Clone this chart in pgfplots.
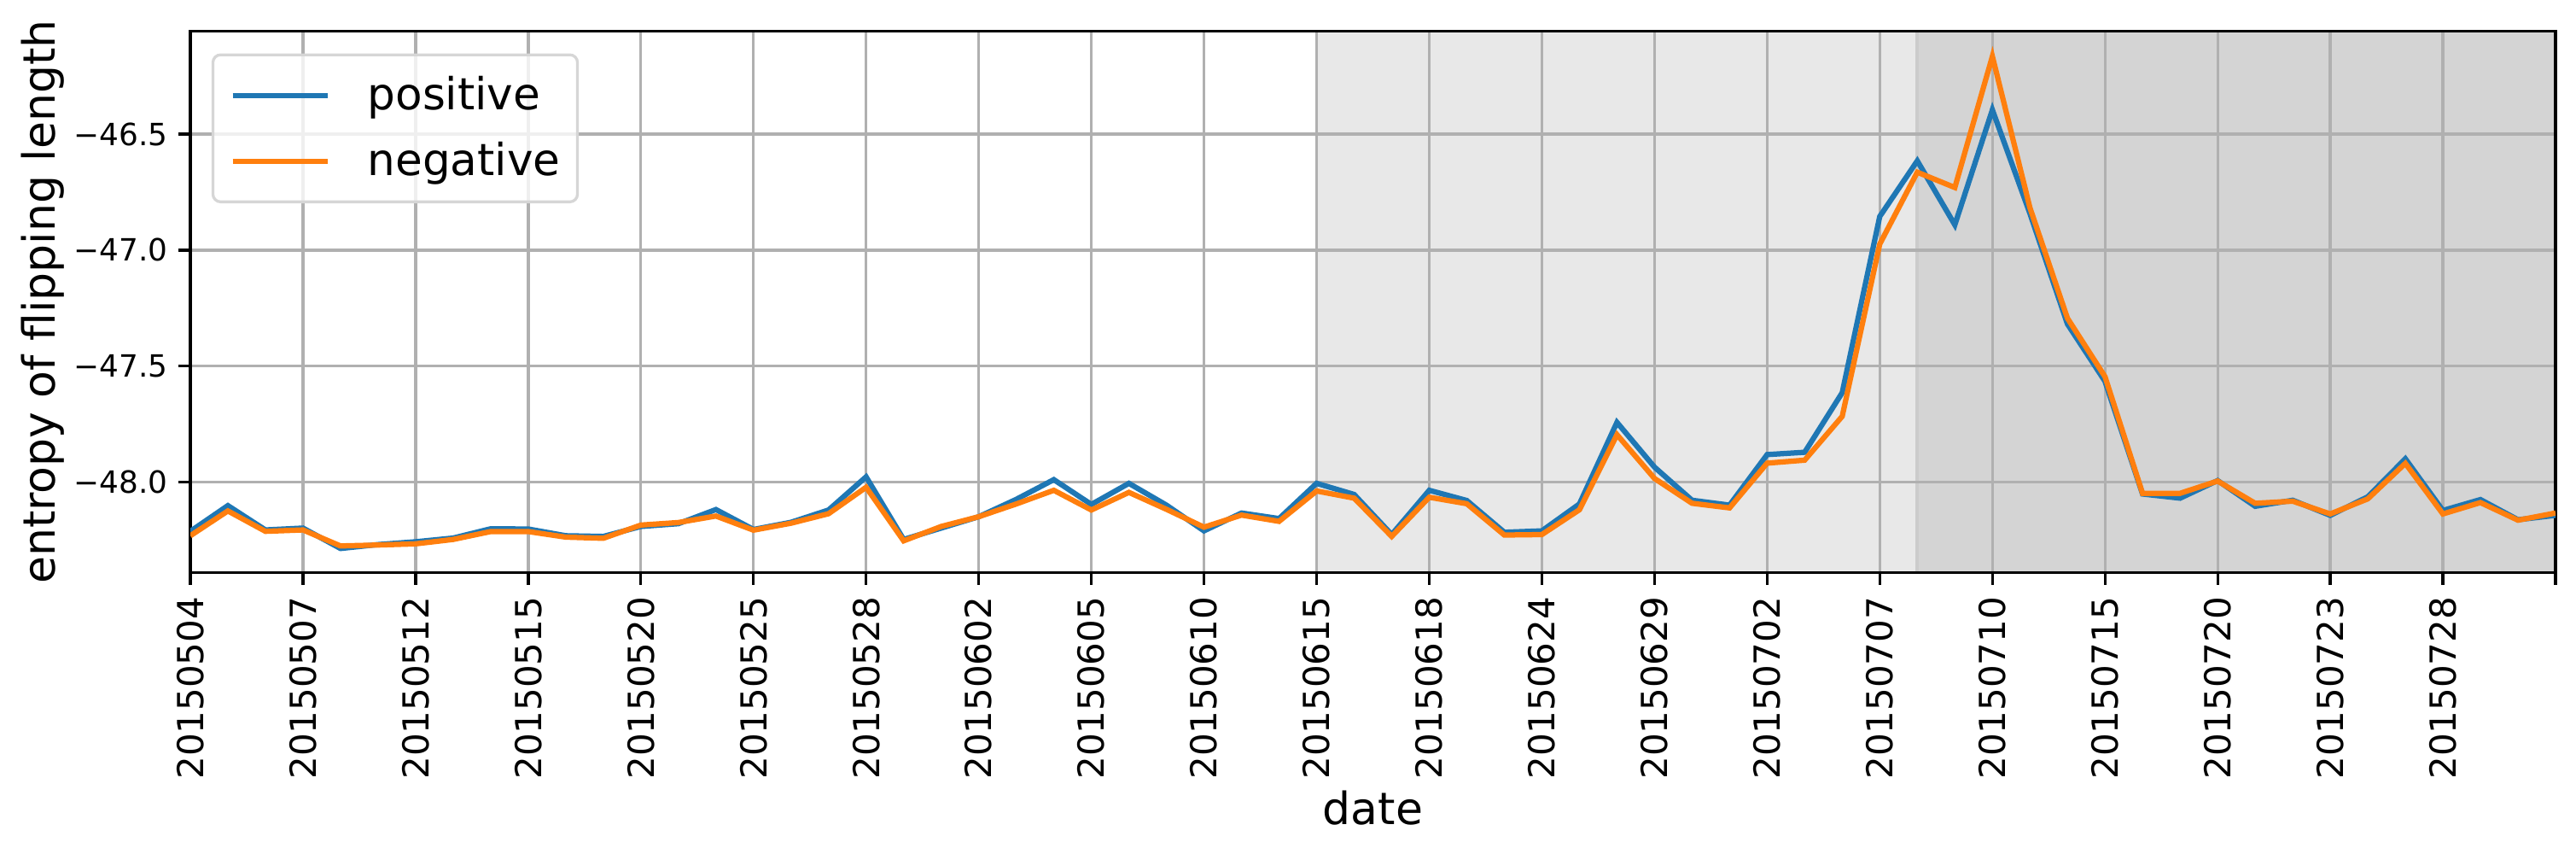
\documentclass[border=0pt]{standalone}
\usepackage{pgfplots}
\usepackage{pgfplotstable}
\pgfplotsset{compat=1.18}
\usepackage{fontspec}
\setmainfont{DejaVu Sans}

\definecolor{mplblue}{HTML}{1F77B4}
\definecolor{mplorange}{HTML}{FF7F0E}
\definecolor{gridgray}{HTML}{B0B0B0}
\definecolor{spanlight}{HTML}{E8E8E8}
\definecolor{spandark}{HTML}{D4D4D4}
\definecolor{spanedge}{HTML}{CBCBCB}

% day index, entropy for positive and negative
\pgfplotstableread{
idx pos neg
0 -48.213 -48.232
1 -48.102 -48.125
2 -48.207 -48.213
3 -48.199 -48.207
4 -48.287 -48.276
5 -48.270 -48.272
6 -48.258 -48.267
7 -48.242 -48.248
8 -48.202 -48.214
9 -48.203 -48.214
10 -48.232 -48.238
11 -48.235 -48.243
12 -48.192 -48.186
13 -48.180 -48.175
14 -48.119 -48.147
15 -48.205 -48.208
16 -48.174 -48.178
17 -48.121 -48.137
18 -47.978 -48.023
19 -48.248 -48.254
20 -48.199 -48.192
21 -48.150 -48.150
22 -48.075 -48.095
23 -47.990 -48.036
24 -48.097 -48.121
25 -48.006 -48.045
26 -48.100 -48.118
27 -48.211 -48.195
28 -48.134 -48.143
29 -48.158 -48.170
30 -48.006 -48.039
31 -48.054 -48.070
32 -48.227 -48.235
33 -48.036 -48.066
34 -48.080 -48.094
35 -48.217 -48.229
36 -48.211 -48.227
37 -48.095 -48.120
38 -47.743 -47.796
39 -47.936 -47.985
40 -48.079 -48.092
41 -48.100 -48.112
42 -47.882 -47.919
43 -47.872 -47.906
44 -47.615 -47.717
45 -46.855 -46.974
46 -46.615 -46.664
47 -46.891 -46.730
48 -46.395 -46.164
49 -46.842 -46.817
50 -47.319 -47.294
51 -47.566 -47.546
52 -48.052 -48.049
53 -48.070 -48.049
54 -47.994 -47.996
55 -48.105 -48.092
56 -48.079 -48.083
57 -48.144 -48.138
58 -48.064 -48.073
59 -47.900 -47.920
60 -48.123 -48.138
61 -48.076 -48.089
62 -48.163 -48.165
63 -48.144 -48.134
}\entropydata

\begin{document}
\begin{tikzpicture}
\begin{axis}[
  at={(0,0)}, anchor=south west,
  scale only axis,
  width=277.1mm, height=63.39mm,
  set layers,
  xmin=0, xmax=63,
  ymin=-48.391, ymax=-46.056,
  axis line style={line width=0.33mm},
  grid=major,
  major grid style={gridgray, line width=0.33mm},
  tick align=outside,
  xtick pos=left, ytick pos=left,
  major tick length=1.4mm,
  every tick/.style={black, line width=0.33mm},
  xtick={0,3,...,63},
  xticklabels={20150504,20150507,20150512,20150515,20150520,20150525,20150528,
    20150602,20150605,20150610,20150615,20150618,20150624,20150629,20150702,
    20150707,20150710,20150715,20150720,20150723,20150728,{}},
  ytick={-48,-47.5,-47,-46.5},
  yticklabels={−48.0,−47.5,−47.0,−46.5},
  xticklabel shift=1.36mm,
  yticklabel shift=1.2mm,
  xticklabel style={rotate=90, anchor=east, inner sep=0pt,
    font=\fontsize{11.95pt}{14pt}\selectfont},
  yticklabel style={anchor=east, inner sep=0pt,
    font=\fontsize{10.2pt}{12pt}\selectfont},
  xlabel={date},
  ylabel={entropy of flipping length},
  xlabel style={at={(axis description cs:0.5,-0.4015)}, anchor=north,
    inner sep=0pt, font=\fontsize{14.8pt}{17pt}\selectfont},
  ylabel style={at={(axis description cs:-0.0716,0.5)}, anchor=north,
    inner sep=0pt, font=\fontsize{14.8pt}{17pt}\selectfont},
  legend cell align=left,
  legend image code/.code={\draw[#1] (0mm,0mm) -- (11.16mm,0mm);},
  legend style={at={(axis description cs:0.00895,0.9591)}, anchor=north west,
    draw=black!16, line width=0.33mm, fill=white, fill opacity=0.8,
    draw opacity=1, text opacity=1, rounded corners=0.9mm,
    inner xsep=2.0mm, inner ysep=2.19mm, row sep=2.52mm,
    font=\fontsize{14.7pt}{17pt}\selectfont,
    nodes={inner sep=0pt, text height=4.25mm, text depth=0.91mm},
    /tikz/every odd column/.append style={column sep=4.33mm}},
]
% shaded periods
\addplot[draw=none, fill=spanlight, forget plot, on layer=axis background]
  coordinates {(30,-48.391) (46,-48.391) (46,-46.056) (30,-46.056) (30,-48.391)};
\addplot[draw=none, fill=spandark, forget plot, on layer=axis background]
  coordinates {(46,-48.391) (63,-48.391) (63,-46.056) (46,-46.056) (46,-48.391)};
\addplot[spanedge, line width=0.4mm, forget plot, on layer=axis background]
  coordinates {(46,-48.391) (46,-46.056)};

\addplot[mplblue, line width=0.625mm] table[x=idx, y=pos] {\entropydata};
\addlegendentry{positive}
\addplot[mplorange, line width=0.625mm] table[x=idx, y=neg] {\entropydata};
\addlegendentry{negative}
\end{axis}
\pgfresetboundingbox
\path[use as bounding box] (-22.3mm,-32.15mm) rectangle (279.5mm,67.05mm);
\end{tikzpicture}
\end{document}
